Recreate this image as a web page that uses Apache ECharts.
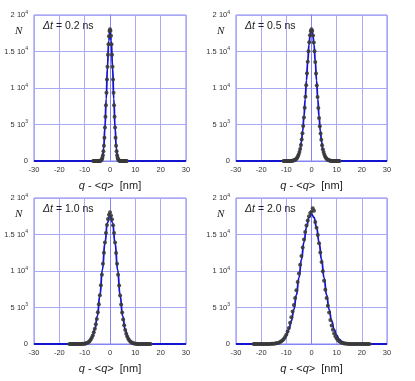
<!DOCTYPE html>
<html><head><meta charset="utf-8">
<script src="https://cdn.jsdelivr.net/npm/echarts@6/dist/echarts.min.js"></script>
<style>html,body{margin:0;padding:0;background:#fff}#c{width:415px;height:381px}</style>
</head><body><div id="c"></div>
<script>
// ---------- data ----------
const panelLabels = ['0.2 ns', '0.5 ns', '1.0 ns', '2.0 ns'];
const xTicks = [-30, -20, -10, 0, 10, 20, 30];
const yTickValues = [0, 5000, 10000, 15000, 20000];
const yTickMantissa = ['0', '5', '1', '1.5', '2'];
const yTickExponent = ['', '3', '4', '4', '4'];
const yAxisSymbol = 'N';
const xAxisTitle = ['q', ' - <', 'q', '>  [nm]'];

// panel 1 : Δt = 0.2 ns (histogram dots)
const dots1X = [-6.6,-6.4,-6.2,-6.0,-5.8,-5.6,-5.4,-5.2,-5.0,-4.8,-4.6,-4.4,-4.2,-4.0,-3.8,-3.6,-3.4,-3.2,-3.0,-2.8,-2.6,-2.4,-2.2,-2.0,-1.8,-1.6,-1.4,-1.2,-1.0,-0.8,-0.6,-0.4,-0.2,0,0.2,0.4,0.6,0.8,1.0,1.2,1.4,1.6,1.8,2.0,2.2,2.4,2.6,2.8,3.0,3.2,3.4,3.6,3.8,4.0,4.2,4.4,4.6,4.8,5.0,5.2,5.4,5.6,5.8,6.0,6.2,6.4,6.6];
const dots1Y = [0,0,0,0,0,0,0,0,1,1,2,4,8,16,32,65,130,250,460,800,1350,2100,3200,4600,6050,7650,9350,11150,12900,14550,15980,17080,17800,18050,17850,17150,16000,14550,12900,11150,9350,7650,6050,4580,3180,2080,1330,790,450,245,125,62,30,15,8,4,2,1,1,0,0,0,0,0,0,0,0];
const curve1X = [-30,-5,-4.5,-4,-3.5,-3,-2.5,-2,-1.5,-1,-0.5,0,0.5,1,1.5,2,2.5,3,3.5,4,4.5,5,30];
const curve1Y = [0,0,2,16,95,460,1700,4600,8500,12900,16500,18000,16500,12900,8500,4600,1700,460,95,16,2,0,0];

// panel 2 : Δt = 0.5 ns
const dots2X = [-11.1,-10.8,-10.5,-10.2,-9.9,-9.6,-9.3,-9.0,-8.7,-8.4,-8.1,-7.8,-7.5,-7.2,-6.9,-6.6,-6.3,-6.0,-5.7,-5.4,-5.1,-4.8,-4.5,-4.2,-3.9,-3.6,-3.3,-3.0,-2.7,-2.4,-2.1,-1.8,-1.5,-1.2,-0.9,-0.6,-0.3,0,0.3,0.6,0.9,1.2,1.5,1.8,2.1,2.4,2.7,3.0,3.3,3.6,3.9,4.2,4.5,4.8,5.1,5.4,5.7,6.0,6.3,6.6,6.9,7.2,7.5,7.8,8.1,8.4,8.7,9.0,9.3,9.6,9.9,10.2,10.5,10.8,11.1];
const dots2Y = [0,0,0,1,1,2,3,4,6,10,15,24,38,60,92,140,210,310,450,640,900,1250,1650,2200,2950,3800,4800,5950,7300,8800,10380,12020,13600,15050,16280,17220,17820,18050,17800,17200,16250,15020,13570,11990,10350,8760,7260,5900,4750,3760,2900,2160,1620,1230,880,620,440,300,205,135,88,57,36,23,14,9,6,4,2,2,1,1,0,0,0];
const curve2X = [-30,-10,-9,-8.5,-8,-7.5,-7,-6.5,-6,-5.5,-5,-4.5,-4,-3.5,-3,-2.5,-2,-1.5,-1,-0.5,0,0.5,1,1.5,2,2.5,3,3.5,4,4.5,5,5.5,6,6.5,7,7.5,8,8.5,9,10,30];
const curve2Y = [0,0,2,5,13,30,65,135,270,510,930,1600,2650,4150,6100,8450,11050,13650,15900,17450,18000,17450,15900,13650,11050,8450,6100,4150,2650,1600,930,510,270,135,65,30,13,5,2,0,0];

// panel 3 : Δt = 1.0 ns
const dots3X = [-16,-15.6,-15.2,-14.8,-14.4,-14,-13.6,-13.2,-12.8,-12.4,-12,-11.6,-11.2,-10.8,-10.4,-10,-9.6,-9.2,-8.8,-8.4,-8,-7.6,-7.2,-6.8,-6.4,-6,-5.6,-5.2,-4.8,-4.4,-4,-3.6,-3.2,-2.8,-2.4,-2,-1.6,-1.2,-0.8,-0.4,0,0.4,0.8,1.2,1.6,2,2.4,2.8,3.2,3.6,4,4.4,4.8,5.2,5.6,6,6.4,6.8,7.2,7.6,8,8.4,8.8,9.2,9.6,10,10.4,10.8,11.2,11.6,12,12.4,12.8,13.2,13.6,14,14.4,14.8,15.2,15.6,16];
const dots3Y = [0,0,0,0,0,1,1,1,2,3,5,8,12,20,32,50,78,120,185,280,410,600,850,1180,1600,2100,2700,3420,4350,5450,6690,8040,9500,11000,12500,13920,15220,16300,17130,17700,18050,17600,17100,16280,15190,13900,12480,10980,9470,8000,6640,5400,4300,3360,2570,1930,1420,1020,725,505,345,230,150,96,60,37,22,13,8,5,3,2,1,1,1,0,0,0,0,0,0];
const curve3X = [-30,-13,-12,-11,-10,-9,-8,-7,-6,-5,-4,-3,-2,-1,0,1,2,3,4,5,6,7,8,9,10,11,12,13,30];
const curve3Y = [0,0,3,11,40,130,370,920,1980,3800,6610,10170,13840,16640,17700,16640,13840,10170,6610,3800,1980,920,370,130,40,11,3,0,0];

// panel 4 : Δt = 2.0 ns
const dots4X = [-23,-22.5,-22,-21.5,-21,-20.5,-20,-19.5,-19,-18.5,-18,-17.5,-17,-16.5,-16,-15.5,-15,-14.5,-14,-13.5,-13,-12.5,-12,-11.5,-11,-10.5,-10,-9.5,-9,-8.5,-8,-7.5,-7,-6.5,-6,-5.5,-5,-4.5,-4,-3.5,-3,-2.5,-2,-1.5,-1,-0.5,0,0.5,1,1.5,2,2.5,3,3.5,4,4.5,5,5.5,6,6.5,7,7.5,8,8.5,9,9.5,10,10.5,11,11.5,12,12.5,13,13.5,14,14.5,15,15.5,16,16.5,17,17.5,18,18.5,19,19.5,20,20.5,21,21.5,22,22.5,23];
const dots4Y = [0,0,0,0,0,0,1,1,1,2,3,5,8,12,18,27,40,60,88,128,185,265,370,510,700,950,1280,1700,2200,2900,3650,4450,5330,6300,7360,8480,9660,10860,12060,13230,14330,15340,16220,16930,17500,17950,18100,18600,18250,16700,15940,14930,13790,12540,11250,9950,8660,7440,6300,5250,4300,3300,2550,1950,1450,1060,760,540,380,265,180,120,80,52,34,22,14,9,6,4,2,1,1,1,0,0,0,0,0,0,0,0,0];
const curve4X = [-30,-20,-19,-18,-17,-16,-15,-14,-13,-12,-11,-10,-9,-8,-7,-6,-5,-4,-3,-2,-1,0,1,2,3,4,5,6,7,8,9,10,11,12,13,14,15,16,17,18,19,20,30];
const curve4Y = [0,0,1,3,7,18,41,89,184,362,675,1190,1990,3150,4730,6720,9050,11550,13960,15980,17330,17800,17330,15980,13960,11550,9050,6720,4730,3150,1990,1190,675,362,184,89,41,18,7,3,1,0,0];

const dotsX = [dots1X, dots2X, dots3X, dots4X];
const dotsY = [dots1Y, dots2Y, dots3Y, dots4Y];
const curveX = [curve1X, curve2X, curve3X, curve4X];
const curveY = [curve1Y, curve2Y, curve3Y, curve4Y];

// ---------- chart ----------
const FONT = 'Arial, "Liberation Sans", sans-serif';
const grids = [
  {left: 34, top: 15, width: 152, height: 146},
  {left: 236, top: 15, width: 151, height: 146},
  {left: 34, top: 198, width: 152, height: 146},
  {left: 236, top: 198, width: 151, height: 146}
];
const frameColor = '#8484f2';
const gridLineColor = '#a9a9f7';
const zip = (xs, ys) => xs.map((x, i) => [x, ys[i]]);

const option = {
  animation: false,
  backgroundColor: '#fff',
  grid: grids.map(g => Object.assign({show: true, borderColor: frameColor, borderWidth: 1, backgroundColor: 'transparent'}, g)),
  xAxis: grids.map((g, i) => ({
    type: 'value', gridIndex: i, min: xTicks[0], max: xTicks[xTicks.length - 1], interval: 10,
    axisLine: {show: true, onZero: false, lineStyle: {color: frameColor}},
    axisTick: {show: false},
    axisLabel: {fontSize: 7.5, color: '#333', margin: 5, fontFamily: FONT,
      formatter: v => xTicks.includes(v) ? String(v) : ''},
    splitLine: {show: true, lineStyle: {color: gridLineColor, width: 1}},
    name: '{i|' + xAxisTitle[0] + '}{n|' + xAxisTitle[1] + '}{i|' + xAxisTitle[2] + '}{n|' + xAxisTitle[3] + '}',
    nameLocation: 'middle', nameGap: 19,
    nameTextStyle: {fontFamily: FONT, fontSize: 11, color: '#222',
      rich: {i: {fontStyle: 'italic', fontSize: 11, fontFamily: FONT, color: '#222'},
             n: {fontSize: 11, fontFamily: FONT, color: '#222'}}}
  })),
  yAxis: grids.map((g, i) => ({
    type: 'value', gridIndex: i, min: 0, max: 20000, interval: 5000,
    axisLine: {show: true, lineStyle: {color: frameColor}},
    axisTick: {show: false},
    axisLabel: {margin: 6, fontFamily: FONT,
      formatter: v => {
        const k = yTickValues.indexOf(v);
        if (k < 0) return '';
        return yTickExponent[k] ? '{m|' + yTickMantissa[k] + ' 10}{e|' + yTickExponent[k] + '}' : '{m|' + yTickMantissa[k] + '}';
      },
      rich: {m: {fontSize: 7.5, color: '#333', fontFamily: FONT},
             e: {fontSize: 5, color: '#333', fontFamily: FONT, padding: [0, 0, 5, 0]}}},
    splitLine: {show: true, lineStyle: {color: gridLineColor, width: 1}}
  })),
  graphic: grids.flatMap((g, i) => [
    {type: 'text', left: g.left - 19, top: g.top + 11, z: 10,
     style: {text: yAxisSymbol, font: 'italic 11px "Liberation Serif", serif', fill: '#222'}},
    {type: 'text', left: g.left + 9, top: g.top + 6, z: 10,
     style: {text: '{d|Δt}{n| = ' + panelLabels[i] + '}',
       rich: {d: {fontStyle: 'italic', fontSize: 10.5, fontFamily: FONT, fill: '#222'},
              n: {fontSize: 10.5, fontFamily: FONT, fill: '#222'}}}}
  ]),
  series: grids.flatMap((g, i) => [
    {type: 'line', xAxisIndex: i, yAxisIndex: i, data: zip(curveX[i], curveY[i]),
     smooth: true, smoothMonotone: 'x', symbol: 'none', z: 2,
     lineStyle: {color: '#1414d0', width: 1.8}},
    {type: 'scatter', xAxisIndex: i, yAxisIndex: i, data: zip(dotsX[i], dotsY[i]),
     symbol: 'circle', symbolSize: 4, z: 3,
     itemStyle: {color: '#3a3a3a', opacity: 0.9}}
  ])
};
const chart = echarts.init(document.getElementById('c'), null, {renderer: 'canvas'});
chart.setOption(option);
</script></body></html>
